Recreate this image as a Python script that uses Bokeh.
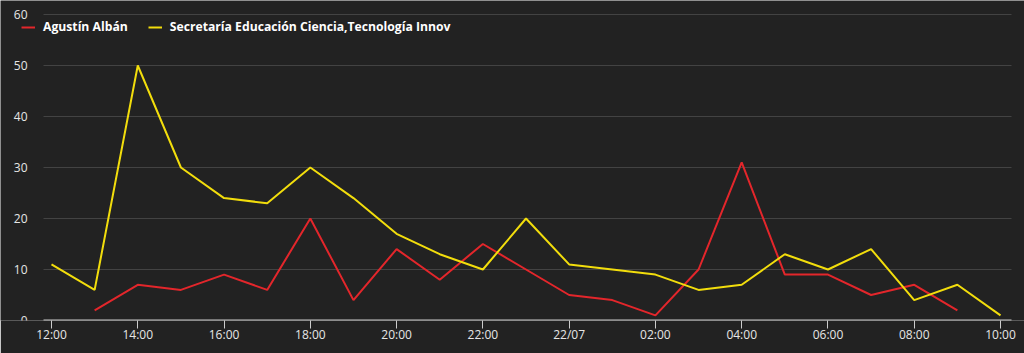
from bokeh.plotting import figure
from bokeh.models import Legend, LegendItem, FixedTicker, Range1d
from bokeh.core.properties import value
from bokeh.embed import file_html
from bokeh.resources import INLINE

hours = ["12:00", "13:00", "14:00", "15:00", "16:00", "17:00", "18:00", "19:00",
         "20:00", "21:00", "22:00", "23:00", "22/07", "01:00", "02:00", "03:00",
         "04:00", "05:00", "06:00", "07:00", "08:00", "09:00", "10:00"]
agustin = [None, 2, 7, 6, 9, 6, 20, 4, 14, 8, 15, 10, 5, 4, 1, 10, 31, 9, 9, 5, 7, 2, None]
secretaria = [11, 6, 50, 30, 24, 23, 30, 24, 17, 13, 10, 20, 11, 10, 9, 6, 7, 13, 10, 14, 4, 7, 1]
series_names = ["Agustín Albán", "Secretaría Educación Ciencia,Tecnología Innov"]
y_ticks = [0, 10, 20, 30, 40, 50, 60]

FONT = "Open Sans"
BG = "#222222"
LABEL = "#e6e6e6"

# layout constants (data units chosen so that the frame can hold the legend)
X_START, X_END = -1.1823, 22.556
GRID_X0, GRID_X1 = -0.1855, 22.255
Y_START, Y_END = 0, 62.745
YLABEL_X = -0.556

x = list(range(len(hours)))
ax = [i for i, v in zip(x, agustin) if v is not None]
ay = [v for v in agustin if v is not None]

p = figure(width=1024, height=353, output_backend="svg", toolbar_location=None,
           x_range=Range1d(X_START, X_END), y_range=Range1d(Y_START, Y_END),
           y_axis_location=None,
           min_border_left=0, min_border_right=0, min_border_top=0, min_border_bottom=33)
p.background_fill_color = BG
p.border_fill_color = BG
p.outline_line_color = None

# horizontal grid lines and value labels
p.segment(x0=[GRID_X0] * len(y_ticks), x1=[GRID_X1] * len(y_ticks), y0=y_ticks, y1=y_ticks,
          line_color="#444444", line_width=1)
p.text(x=[YLABEL_X] * len(y_ticks), y=y_ticks, text=[str(t) for t in y_ticks],
       text_font=value(FONT), text_font_size="12px", text_color=LABEL,
       text_align="right", text_baseline="middle")
# x axis base line
p.segment(x0=[GRID_X0], x1=[GRID_X1], y0=[0], y1=[0], line_color="#cccccc", line_width=2)

r1 = p.line(ax, ay, line_color="#e3262b", line_width=2)
r2 = p.line(x, secretaria, line_color="#f2dd0c", line_width=2)

p.xaxis.ticker = FixedTicker(ticks=list(range(0, len(hours), 2)))
p.xaxis.major_label_overrides = {i: hours[i] for i in range(0, len(hours), 2)}
p.xaxis.axis_line_color = None
p.xaxis.major_tick_line_color = "#cccccc"
p.xaxis.major_tick_line_width = 1
p.xaxis.major_tick_out = 8
p.xaxis.major_tick_in = 0
p.xaxis.minor_tick_line_color = None
p.xaxis.major_label_text_color = LABEL
p.xaxis.major_label_text_font = FONT
p.xaxis.major_label_text_font_size = "12px"
p.xaxis.major_label_standoff = -3

p.xgrid.grid_line_color = None
p.ygrid.grid_line_color = None

legend = Legend(items=[LegendItem(label=series_names[0], renderers=[r1]),
                       LegendItem(label=series_names[1], renderers=[r2])],
                orientation="horizontal", location=(21, 285))
legend.background_fill_alpha = 0
legend.border_line_color = None
legend.label_text_color = "#ffffff"
legend.label_text_font = FONT
legend.label_text_font_style = "bold"
legend.label_text_font_size = "12.2px"
legend.glyph_width = 14
legend.glyph_height = 14
legend.label_standoff = 8
legend.spacing = 20
legend.padding = 0
legend.margin = 0
p.add_layout(legend, "center")

open("out.html", "w").write(file_html(p, INLINE))
